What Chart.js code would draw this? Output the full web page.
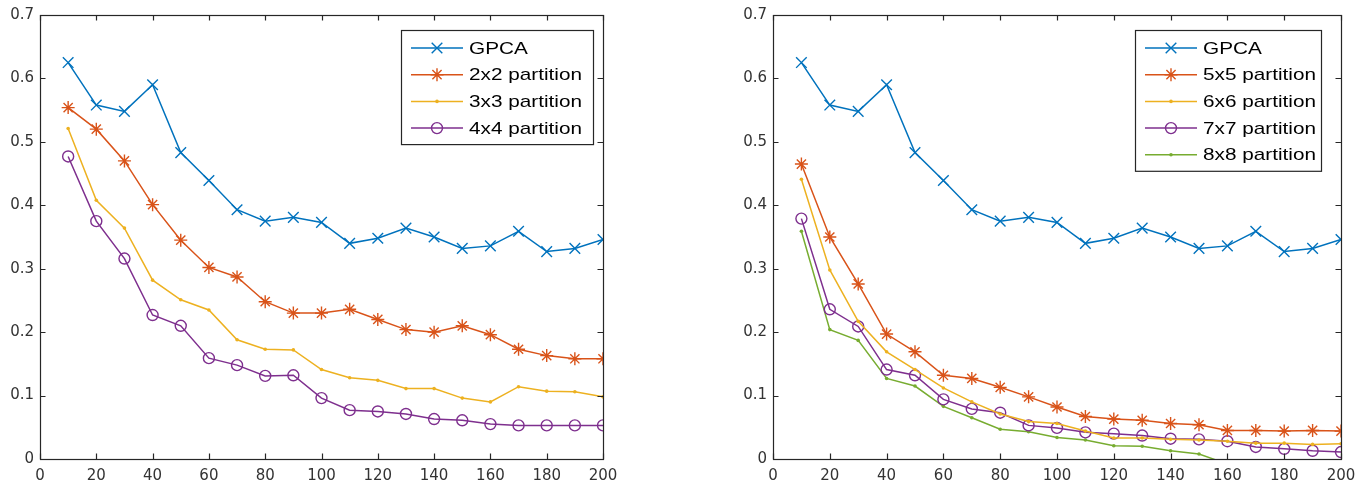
<!DOCTYPE html>
<html>
<head>
<meta charset="utf-8">
<script src="https://cdn.jsdelivr.net/npm/chart.js@4.4.0/dist/chart.umd.min.js"></script>
<style>
  html, body { margin: 0; padding: 0; background: #fff; width: 1365px; height: 488px; overflow: hidden; }
  .panel { position: absolute; top: 0; height: 488px; }
</style>
</head>
<body>
<div class="panel" style="left:0;width:640px"><canvas id="leftChart"></canvas></div>
<div class="panel" style="left:700px;width:665px"><canvas id="rightChart"></canvas></div>
<script>
// x positions (number of samples) and axis tick labels
const xValues = [10, 20, 30, 40, 50, 60, 70, 80, 90, 100, 110, 120, 130, 140, 150, 160, 170, 180, 190, 200];
const xTicks = ['0', '20', '40', '60', '80', '100', '120', '140', '160', '180', '200'];
const yTicks = ['0', '0.1', '0.2', '0.3', '0.4', '0.5', '0.6', '0.7'];

// series
const gpca     = [0.625, 0.558, 0.548, 0.590, 0.483, 0.439, 0.393, 0.375, 0.381, 0.373, 0.340, 0.348, 0.364, 0.350, 0.332, 0.336, 0.359, 0.327, 0.332, 0.346];
const part2x2  = [0.554, 0.520, 0.470, 0.401, 0.345, 0.302, 0.287, 0.248, 0.230, 0.230, 0.236, 0.220, 0.204, 0.200, 0.210, 0.196, 0.173, 0.163, 0.158, 0.158];
const part3x3  = [0.521, 0.408, 0.364, 0.282, 0.251, 0.235, 0.188, 0.173, 0.172, 0.141, 0.128, 0.124, 0.111, 0.111, 0.096, 0.090, 0.114, 0.107, 0.106, 0.098];
const part4x4  = [0.477, 0.375, 0.316, 0.227, 0.210, 0.159, 0.148, 0.131, 0.132, 0.096, 0.077, 0.075, 0.071, 0.063, 0.061, 0.055, 0.053, 0.053, 0.053, 0.053];
const part5x5  = [0.465, 0.350, 0.276, 0.197, 0.169, 0.132, 0.127, 0.113, 0.098, 0.082, 0.067, 0.063, 0.061, 0.056, 0.054, 0.045, 0.045, 0.044, 0.045, 0.044];
const part6x6  = [0.441, 0.298, 0.217, 0.169, 0.141, 0.112, 0.090, 0.071, 0.059, 0.056, 0.044, 0.033, 0.033, 0.031, 0.030, 0.028, 0.025, 0.025, 0.023, 0.024];
const part7x7  = [0.379, 0.236, 0.209, 0.141, 0.132, 0.094, 0.079, 0.073, 0.053, 0.049, 0.042, 0.040, 0.037, 0.032, 0.031, 0.028, 0.019, 0.016, 0.013, 0.011];
const part8x8  = [0.359, 0.204, 0.187, 0.127, 0.115, 0.083, 0.065, 0.047, 0.043, 0.034, 0.030, 0.021, 0.020, 0.013, 0.008, -0.008, null, null, null, null];

const BLUE = '#0072BD', ORANGE = '#D95319', YELLOW = '#EDB120', PURPLE = '#7E2F8E', GREEN = '#77AC30';
const AXIS = '#262626';

function pts(vals) {
  return xValues.map((x, i) => ({ x: x, y: vals[i] }));
}

function series(label, vals, color, style) {
  const ds = {
    label: label,
    data: pts(vals),
    borderColor: color,
    backgroundColor: color,
    borderWidth: 1.5,
    pointBorderWidth: 1.4,
    pointStyle: style,
    pointRadius: 5.5,
    pointHoverRadius: 5.5,
    pointBorderColor: color,
    pointBackgroundColor: 'rgba(0,0,0,0)',
    tension: 0,
    spanGaps: false
  };
  if (style === 'crossRot') ds.pointRadius = 7.5;
  if (style === 'star') ds.pointRadius = 6.5;
  if (style === 'dot') {
    ds.pointStyle = 'circle';
    ds.pointRadius = 1.8;
    ds.pointBorderWidth = 0;
    ds.pointBackgroundColor = color;
  }
  return ds;
}

// box, inward ticks on all four sides, and a matlab style legend
const matlabAxes = {
  id: 'matlabAxes',
  afterDraw(chart, args, opts) {
    const ctx = chart.ctx;
    const a = chart.chartArea;
    const xs = chart.scales.x, ys = chart.scales.y;
    const tl = 5.5;
    ctx.save();
    ctx.strokeStyle = AXIS;
    ctx.lineWidth = 1.2;
    ctx.beginPath();
    xs.ticks.forEach(t => {
      const px = Math.round(xs.getPixelForValue(t.value)) + 0.5;
      ctx.moveTo(px, a.bottom); ctx.lineTo(px, a.bottom - tl);
      ctx.moveTo(px, a.top); ctx.lineTo(px, a.top + tl);
    });
    ys.ticks.forEach(t => {
      const py = Math.round(ys.getPixelForValue(t.value)) + 0.5;
      ctx.moveTo(a.left, py); ctx.lineTo(a.left + tl, py);
      ctx.moveTo(a.right, py); ctx.lineTo(a.right - tl, py);
    });
    ctx.stroke();
    ctx.strokeRect(Math.round(a.left) + 0.5, Math.round(a.top) + 0.5,
                   Math.round(a.right - a.left), Math.round(a.bottom - a.top));

    // legend
    const lg = opts.legend;
    const n = chart.data.datasets.length;
    const rowH = 26.7;
    const h = 18 + (n - 1) * rowH + 16;
    ctx.fillStyle = '#fff';
    ctx.fillRect(lg.left, lg.top, lg.width, h);
    ctx.strokeStyle = AXIS;
    ctx.lineWidth = 1.2;
    ctx.strokeRect(lg.left + 0.5, lg.top + 0.5, lg.width, h);
    chart.data.datasets.forEach((ds, i) => {
      const cy = lg.top + 18 + i * rowH;
      ctx.strokeStyle = ds.borderColor;
      ctx.lineWidth = ds.borderWidth;
      ctx.beginPath();
      ctx.moveTo(lg.left + 10, cy);
      ctx.lineTo(lg.left + 62, cy);
      ctx.stroke();
      ctx.fillStyle = ds.pointBackgroundColor;
      ctx.lineWidth = ds.pointBorderWidth || 1;
      Chart.helpers.drawPoint(ctx, {
        pointStyle: ds.pointStyle, radius: ds.pointRadius, borderWidth: ds.pointBorderWidth, rotation: 0
      }, lg.left + 36, cy);
      ctx.save();
      ctx.fillStyle = '#000';
      ctx.font = '17px "Liberation Sans", Arial, sans-serif';
      ctx.textBaseline = 'middle';
      ctx.translate(lg.left + 68, cy + 1);
      ctx.scale(1.22, 1);
      ctx.fillText(ds.label, 0, 0);
      ctx.restore();
    });
    ctx.restore();
  }
};

function makeChart(id, datasets, yWidth, padRight, legend) {
  return new Chart(document.getElementById(id), {
    type: 'line',
    data: { datasets: datasets },
    options: {
      responsive: true,
      maintainAspectRatio: false,
      animation: false,
      events: [],
      layout: { padding: { top: 13, right: padRight, left: 0, bottom: 0 } },
      plugins: {
        legend: { display: false },
        tooltip: { enabled: false },
        matlabAxes: { legend: legend }
      },
      scales: {
        x: {
          type: 'linear',
          min: 0, max: 200,
          grid: { display: false, drawTicks: false },
          border: { display: false },
          ticks: {
            stepSize: 20,
            padding: 8,
            color: '#333',
            font: { family: '"DejaVu Sans"', size: 15 },
            maxRotation: 0,
            callback: (v, i) => xTicks[i]
          },
          afterFit: s => { s.height = 29; }
        },
        y: {
          min: 0, max: 0.7,
          grid: { display: false, drawTicks: false },
          border: { display: false },
          ticks: {
            stepSize: 0.1,
            padding: 6,
            color: '#333',
            font: { family: '"DejaVu Sans"', size: 15 },
            callback: (v, i) => yTicks[i]
          },
          afterFit: s => { s.width = yWidth; }
        }
      }
    },
    plugins: [matlabAxes]
  });
}

makeChart('leftChart', [
  series('GPCA', gpca, BLUE, 'crossRot'),
  series('2x2 partition', part2x2, ORANGE, 'star'),
  series('3x3 partition', part3x3, YELLOW, 'dot'),
  series('4x4 partition', part4x4, PURPLE, 'circle')
], 40, 37, { left: 401, top: 30, width: 192 });

makeChart('rightChart', [
  series('GPCA', gpca, BLUE, 'crossRot'),
  series('5x5 partition', part5x5, ORANGE, 'star'),
  series('6x6 partition', part6x6, YELLOW, 'dot'),
  series('7x7 partition', part7x7, PURPLE, 'circle'),
  series('8x8 partition', part8x8, GREEN, 'dot')
], 73, 24, { left: 435, top: 30, width: 186 });
</script>
</body>
</html>
